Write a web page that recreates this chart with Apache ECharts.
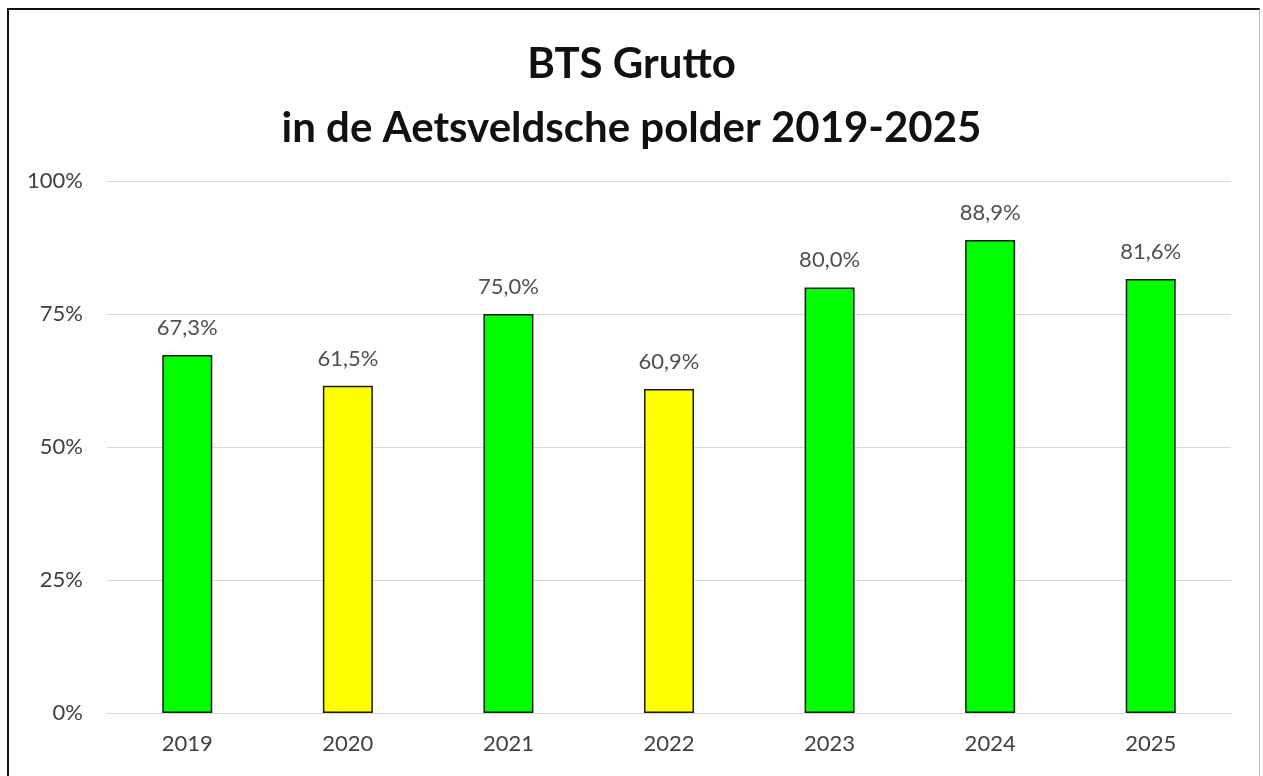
<!DOCTYPE html>
<html>
<head>
<meta charset="utf-8">
<script src="https://cdn.jsdelivr.net/npm/echarts@6/dist/echarts.min.js"></script>
<style>
  html, body { margin: 0; padding: 0; background: #fff; overflow: hidden; }
  #chart { position: absolute; left: 0; top: 0; width: 1263px; height: 776px; }
  #frame { position: absolute; left: 7px; top: 8px; width: 1250px; height: 820px;
           border: 2px solid #111; border-right-color: #bbb; border-right-width: 1px; pointer-events: none; }
</style>
</head>
<body>
<div id="chart"></div>
<div id="frame"></div>
<script>
const years = ['2019', '2020', '2021', '2022', '2023', '2024', '2025']
const shares = [67.3, 61.5, 75.0, 60.9, 80.0, 88.9, 81.6]
const barColors = ['#00ff00', '#ffff00', '#00ff00', '#ffff00', '#00ff00', '#00ff00', '#00ff00']
const yTicks = [0, 25, 50, 75, 100]

const font = 'Lato, "Open Sans", sans-serif'

const myChart = echarts.init(document.getElementById('chart'))
myChart.setOption({
  animation: false,
  title: {
    text: 'BTS Grutto\nin de Aetsveldsche polder 2019-2025',
    left: 'center',
    top: 27,
    textStyle: {
      fontFamily: font,
      fontWeight: 'bold',
      fontSize: 42,
      color: '#111',
      lineHeight: 64
    }
  },
  grid: { left: 107, right: 32, top: 181, bottom: 63 },
  xAxis: {
    type: 'category',
    data: years,
    axisLine: { lineStyle: { color: '#d9d9d9', width: 1 } },
    axisTick: { show: false },
    axisLabel: { color: '#404040', fontSize: 22, fontFamily: font, margin: 20 }
  },
  yAxis: {
    type: 'value',
    min: yTicks[0],
    max: yTicks[yTicks.length - 1],
    interval: 25,
    axisLine: { show: false },
    axisTick: { show: false },
    splitLine: { lineStyle: { color: '#d9d9d9', width: 1 } },
    axisLabel: {
      color: '#404040', fontSize: 22, fontFamily: font, margin: 24,
      formatter: v => v + '%'
    }
  },
  series: [{
    type: 'bar',
    barWidth: 50,
    data: shares.map((v, i) => ({
      value: v,
      itemStyle: { color: barColors[i], borderColor: '#1a1a1a', borderWidth: 1.5 }
    })),
    label: {
      show: true,
      position: 'top',
      distance: 16,
      color: '#505050',
      fontSize: 22,
      fontFamily: font,
      formatter: p => p.value.toFixed(1).replace('.', ',') + '%'
    }
  }]
})
</script>
</body>
</html>
